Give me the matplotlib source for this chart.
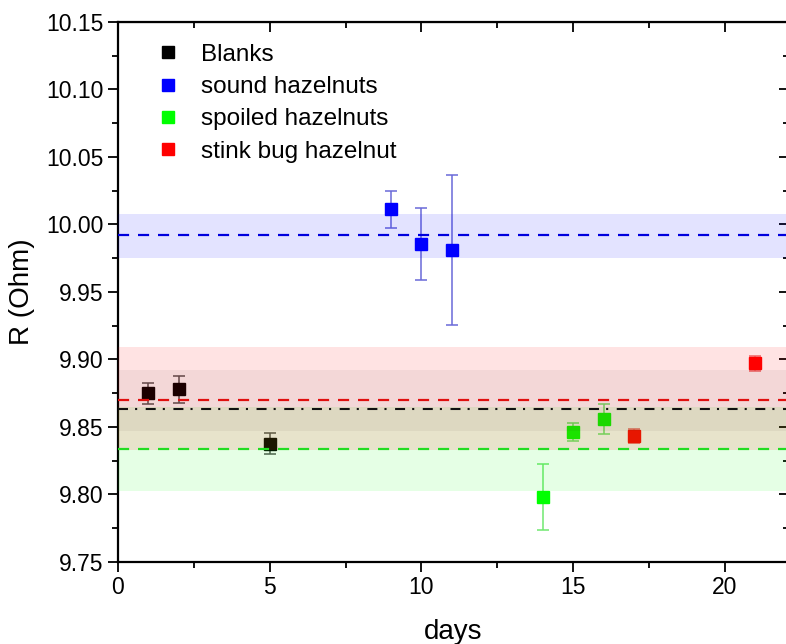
import matplotlib
matplotlib.use("Agg")
import matplotlib.pyplot as plt
from matplotlib.lines import Line2D
from matplotlib.ticker import MultipleLocator

plt.rcParams['font.family'] = ['Liberation Sans', 'DejaVu Sans']

# data
blank_x = [1, 2, 5]
blank_y = [9.8748, 9.8780, 9.8375]
blank_err = [0.008, 0.010, 0.008]

sound_x = [9, 10, 11]
sound_y = [10.0111, 9.9854, 9.9807]
sound_err = [0.014, 0.0265, 0.0556]

spoiled_x = [14, 15, 16]
spoiled_y = [9.7978, 9.8464, 9.8560]
spoiled_err = [0.0245, 0.0068, 0.011]

stink_x = [17, 21]
stink_y = [9.8432, 9.8970]
stink_err = [0.0054, 0.0058]

labels = ['Blanks', 'sound hazelnuts', 'spoiled hazelnuts', 'stink bug hazelnut']
colors = ['#000000', '#0000ff', '#00ff00', '#ff0000']
err_colors = ['#555555', '#6a6ad8', '#70e870', '#f07070']

# mean lines and shaded ranges
mean_lines = [9.8632, 9.9923, 9.8333, 9.8700]
band_lo = [9.847, 9.9753, 9.8022, 9.8328]
band_hi = [9.892, 10.0076, 9.8646, 9.9094]
band_alpha = [0.05, 0.11, 0.10, 0.11]

fig = plt.figure(figsize=(7.86, 6.44), dpi=100)
# right spine falls just outside the picture, as in the original
ax = fig.add_axes([0.1501, 0.1277, 0.8537, 0.8381])

series = [(blank_x, blank_y, blank_err), (sound_x, sound_y, sound_err),
          (spoiled_x, spoiled_y, spoiled_err), (stink_x, stink_y, stink_err)]

for (x, y, e), c, ec in zip(series, colors, err_colors):
    ax.errorbar(x, y, yerr=e, fmt='s', color=c, ms=8, ecolor=ec,
                elinewidth=1.1, capsize=4.5, capthick=1.1, zorder=2)

for lo, hi, c, a in zip(band_lo, band_hi, colors, band_alpha):
    ax.axhspan(lo, hi, color=c, alpha=a, lw=0, zorder=3)

ax.axhline(mean_lines[1], color='#0000dd', lw=1.6, ls=(0, (5, 4)), zorder=4)
ax.axhline(mean_lines[3], color='#e01010', lw=1.6, ls=(0, (5, 4)), zorder=4)
ax.axhline(mean_lines[2], color='#22dd22', lw=1.6, ls=(0, (5, 4)), zorder=4)
ax.axhline(mean_lines[0], color='#111111', lw=1.5, ls=(0, (4.8, 3.4, 1, 4.1)), zorder=4)

ax.set_xlim(0, 22.11)
ax.set_ylim(9.75, 10.15)
ax.xaxis.set_major_locator(MultipleLocator(5))
ax.xaxis.set_minor_locator(MultipleLocator(2.5))
ax.yaxis.set_major_locator(MultipleLocator(0.05))
ax.yaxis.set_minor_locator(MultipleLocator(0.025))
ax.yaxis.set_major_formatter(plt.FormatStrFormatter('%.2f'))

for s in ax.spines.values():
    s.set_linewidth(1.6)

ax.tick_params(which='both', direction='out', width=1.3, labelsize=16.5)
ax.tick_params(which='major', length=7)
ax.tick_params(which='minor', length=4)
# inward ticks on top/right
axt = ax.secondary_xaxis('top')
axt.xaxis.set_major_locator(MultipleLocator(5))
axt.xaxis.set_minor_locator(MultipleLocator(2.5))
axt.tick_params(which='both', direction='in', width=1.3, labeltop=False)
axt.tick_params(which='major', length=7)
axt.tick_params(which='minor', length=4)
axr = ax.secondary_yaxis('right')
axr.yaxis.set_major_locator(MultipleLocator(0.05))
axr.yaxis.set_minor_locator(MultipleLocator(0.025))
axr.tick_params(which='both', direction='in', width=1.3, labelright=False)
axr.tick_params(which='major', length=7)
axr.tick_params(which='minor', length=4)

ax.set_xlabel('days', fontsize=20, labelpad=14)
ax.set_ylabel('R (Ohm)', fontsize=20, labelpad=8)

handles = [Line2D([], [], marker='s', ls='none', color=c, ms=8) for c in colors]
ax.legend(handles, labels, loc='upper left', bbox_to_anchor=(0.024, 1.0),
          frameon=False, fontsize=17.5, handlelength=1.0, handletextpad=0.85,
          labelspacing=0.42)

fig.savefig('out.png', dpi=100)
